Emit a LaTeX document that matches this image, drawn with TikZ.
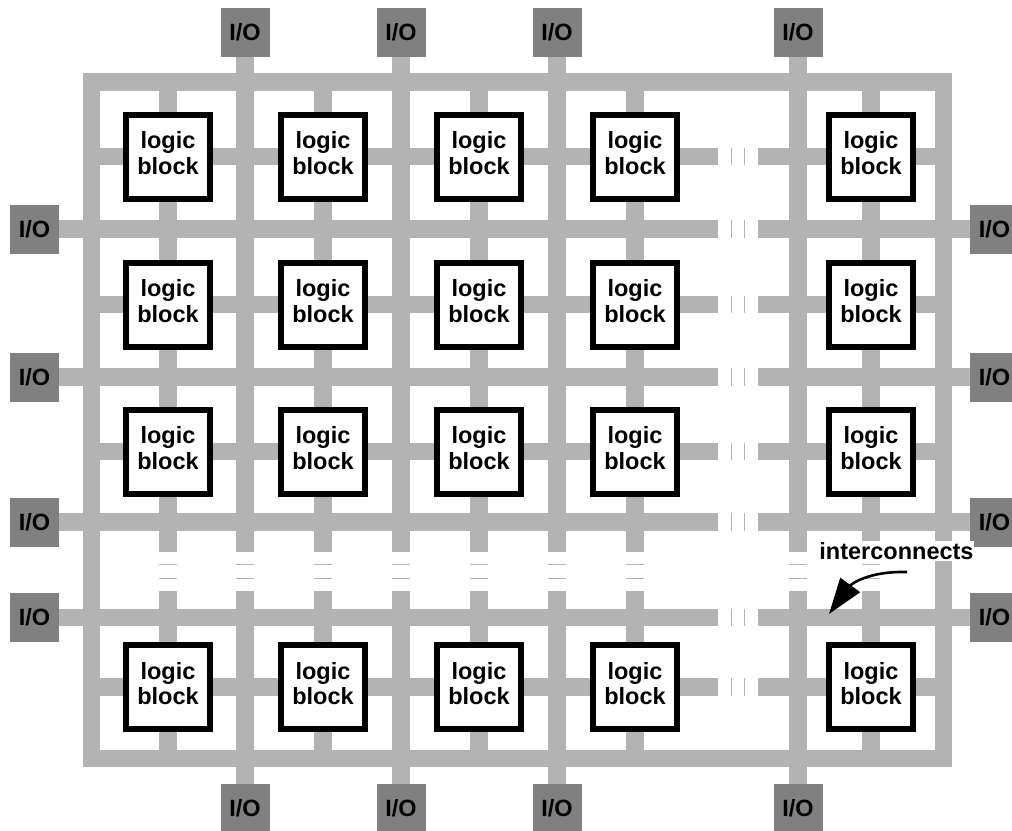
\documentclass[tikz,border=0pt]{standalone}
\usepackage{fontspec}
\setmainfont{Liberation Sans}
\usetikzlibrary{arrows.meta}
\definecolor{wire}{RGB}{179,179,179}
\definecolor{iogray}{RGB}{128,128,128}
\begin{document}
\begin{tikzpicture}[x=1pt,y=-1pt,
  wirestyle/.style={draw=wire,line width=17.5pt},
  breakmark/.style={draw=wire,line width=1pt},
  lb/.style={draw=black,fill=white,line width=6pt,minimum size=84pt,inner sep=0pt,align=center,text depth=7pt,font=\fontsize{23.5}{25.5}\selectfont\bfseries},
  iobox/.style={fill=iogray,minimum size=49pt,inner sep=0pt,font=\fontsize{23.5}{25.5}\selectfont\bfseries},
  lbltext/.style={font=\fontsize{23.5}{25.5}\selectfont\bfseries,fill=white,inner xsep=0pt,inner ysep=1pt,anchor=base},
  arrowline/.style={draw=black,line width=2.6pt,-{Triangle[length=36pt,width=24pt]}}
  ]
\useasboundingbox (0,0) rectangle (1012,830);
\clip (0,0) rectangle (1012,830);

% I/O pads
\foreach \y/\i in {229/1,377/2,522/3,617.5/4}{
  \node[iobox] (ioL\i) at (34.5,\y) {I/O};
  \node[iobox] (ioR\i) at (994.5,\y) {I/O};
}
\foreach \x/\i in {245/1,401/2,557/3,798/4}{
  \node[iobox] (ioT\i) at (\x,32) {I/O};
  \node[iobox] (ioB\i) at (\x,808.5) {I/O};
}

% outer frame
\draw[wirestyle] (91.5,82) rectangle (943.5,758.5);

% horizontal wires through block rows
\foreach \y in {156.5,304.5,451.5,687}{
  \draw[wirestyle] (91.5,\y) -- (718,\y) (757.5,\y) -- (943.5,\y);
}
% horizontal wires between rows, to the side pads
\foreach \y/\i in {229/1,377/2,522/3,617.5/4}{
  \draw[wirestyle] (ioL\i.east) -- (718,\y) (757.5,\y) -- (ioR\i.west);
}
% vertical wires through block columns
\foreach \x in {168,323,479,635,871}{
  \draw[wirestyle] (\x,82) -- (\x,552) (\x,591) -- (\x,758.5);
}
% vertical wires between columns, to the top and bottom pads
\foreach \x/\i in {245/1,401/2,557/3,798/4}{
  \draw[wirestyle] (ioT\i.south) -- (\x,552) (\x,591) -- (ioB\i.north);
}

% break marks
\foreach \x in {168,245,323,401,479,557,635,798,871}{
  \draw[breakmark] (\x-8.75,564.5) -- (\x+8.75,564.5) (\x-8.75,578.5) -- (\x+8.75,578.5);
}
\foreach \y in {156.5,229,304.5,377,451.5,522,617.5,687}{
  \draw[breakmark] (731,\y-8.75) -- (731,\y+8.75) (744.5,\y-8.75) -- (744.5,\y+8.75);
}

% logic blocks
\foreach \x/\c in {168/1,323/2,479/3,635/4,871/5}{
  \foreach \y/\r in {156.5/1,304.5/2,451.5/3,687/5}{
    \node[lb] (blk\r\c) at (\x,\y) {logic\\block};
  }
}

% label and arrow
\node[lbltext] (lbl) at (896.5,559.5) {interconnects};
\coordinate (tail) at (907,572);
\coordinate (tip) at (829,614);
\draw[arrowline] (tail) .. controls (862,571) and (848,588) .. (tip);
\end{tikzpicture}
\end{document}
